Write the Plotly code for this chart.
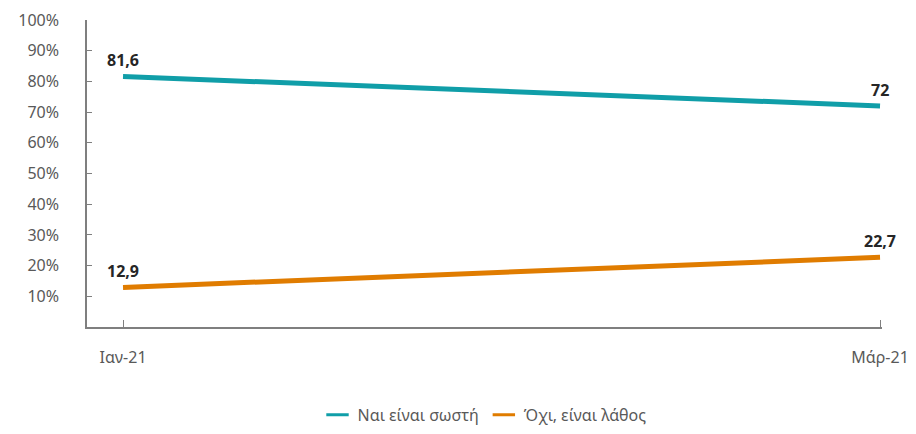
import plotly.graph_objects as go

categories = ["Ιαν-21", "Μάρ-21"]
yes_values = [81.6, 72]
no_values = [12.9, 22.7]
yes_labels = ["81,6", "72"]
no_labels = ["12,9", "22,7"]
series_names = ["Ναι είναι σωστή", "Όχι, είναι λάθος"]
series_colors = ["#109EA8", "#E07C00"]
y_ticks = [10, 20, 30, 40, 50, 60, 70, 80, 90, 100]
y_tick_labels = [f"{v}%" for v in y_ticks]

x_idx = list(range(len(categories)))
FONT = "Noto Sans"

fig = go.Figure()
for name, vals, labels, color in zip(series_names, [yes_values, no_values],
                                     [yes_labels, no_labels], series_colors):
    fig.add_trace(go.Scatter(
        x=x_idx, y=vals, mode="lines", name=name, showlegend=False,
        line=dict(color=color, width=5), cliponaxis=False,
    ))
    # legend-only entry with short line symbol
    fig.add_trace(go.Scatter(
        x=[None], y=[None], mode="markers", name=name, showlegend=True,
        marker=dict(symbol="line-ew-open", size=16, color=color,
                    line=dict(color=color, width=3)),
    ))
    for xi, v, lab in zip(x_idx, vals, labels):
        fig.add_annotation(
            x=xi, y=v, text=f"<b>{lab}</b>", showarrow=False,
            yshift=16, xanchor="center", yanchor="middle",
            font=dict(size=16, color="#262626", family=FONT),
        )

fig.update_layout(
    width=908, height=426,
    margin=dict(l=79, r=34, t=12, b=107),
    plot_bgcolor="white", paper_bgcolor="white",
    font=dict(family=FONT, size=16, color="#595959"),
    showlegend=True,
    legend=dict(orientation="h", x=0.5, xanchor="center", xref="paper",
                yref="container", y=0.045, yanchor="middle",
                font=dict(size=16, color="#595959"), itemwidth=30, tracegroupgap=0),
    xaxis=dict(
        range=[-0.0476, 1.0026], tickmode="array", tickvals=x_idx, ticktext=categories,
        showline=True, linecolor="#7F7F7F", linewidth=1.5,
        ticks="inside", ticklen=7, tickcolor="#7F7F7F",
        showgrid=False, zeroline=False, ticklabelstandoff=15, automargin=False,
    ),
    yaxis=dict(
        range=[0, 100], tickmode="array", tickvals=[0] + y_ticks, ticktext=[""] + y_tick_labels,
        showline=True, linecolor="#7F7F7F", linewidth=1.5,
        ticks="inside", ticklen=5, tickcolor="#7F7F7F",
        showgrid=False, zeroline=False, ticklabelstandoff=23, automargin=False,
    ),
)

fig.write_html("out.html")
